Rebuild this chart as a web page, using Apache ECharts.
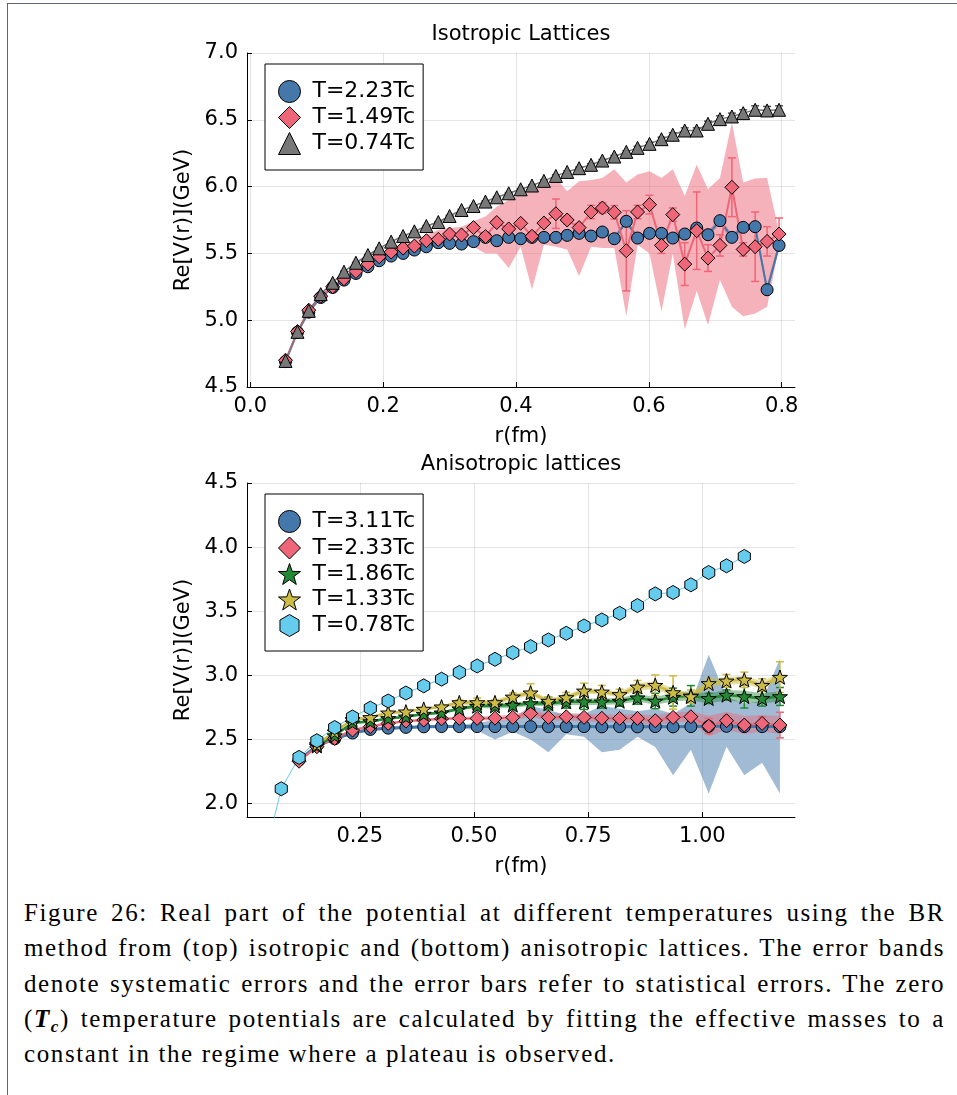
<!DOCTYPE html>
<html><head><meta charset="utf-8">
<script src="https://cdn.jsdelivr.net/npm/echarts@6/dist/echarts.min.js"></script>
<style>
html,body{margin:0;padding:0;background:#fff;}
#wrap{position:relative;width:957px;height:1095px;overflow:hidden;background:#fff;}
#frame{position:absolute;left:7px;top:3px;width:980px;height:1120px;border-top:1px solid #5f6480;border-left:1px solid #5f6480;}
#c{position:absolute;left:0;top:0;width:957px;height:880px;}
#cap{position:absolute;left:24px;top:895px;width:921px;font-family:'Liberation Serif',serif;font-size:25px;line-height:35.3px;color:#000;letter-spacing:1.6px;}
#cap div{height:35.3px;white-space:nowrap;}
#cap .j{text-align:justify;text-align-last:justify;white-space:normal;}
#cap .sub{position:relative;top:5px;font-size:17px;line-height:0;}
</style></head>
<body><div id="wrap"><div id="frame"></div><div id="c"></div>
<div id="cap">
<div class="j">Figure 26: Real part of the potential at different temperatures using the BR</div>
<div class="j">method from (top) isotropic and (bottom) anisotropic lattices. The error bands</div>
<div class="j">denote systematic errors and the error bars refer to statistical errors. The zero</div>
<div class="j">(<b><i>T<span class="sub">c</span></i></b>) temperature potentials are calculated by fitting the effective masses to a</div>
<div>constant in the regime where a plateau is observed.</div>
</div></div>
<script>
// ---------- top panel: isotropic lattices ----------
const rTop = [0.053,0.071,0.088,0.106,0.124,0.141,0.159,0.177,0.194,0.212,0.230,0.247,0.265,0.283,0.300,0.318,0.336,0.354,0.371,0.389,0.407,0.424,0.442,0.460,0.477,0.495,0.513,0.530,0.548,0.566,0.583,0.601,0.619,0.636,0.654,0.672,0.689,0.707,0.725,0.742,0.760,0.778,0.796];
const topXTicks = [0,0.2,0.4,0.6,0.8];
const topYTicks = [4.5,5.0,5.5,6.0,6.5,7.0];

const vBlueTop = [4.69,4.91,5.06,5.17,5.245,5.30,5.35,5.40,5.445,5.48,5.50,5.525,5.55,
 5.58,5.575,5.57,5.588,5.62,5.595,5.62,5.61,5.62,5.62,
 5.62,5.635,5.65,5.63,5.66,5.61,5.74,5.615,5.65,5.65,
 5.615,5.645,5.69,5.64,5.745,5.62,5.695,5.70,5.228,5.56];
const sBlueTop = [0.005,0.005,0.005,0.005,0.005,0.005,0.005,0.005,0.005,0.005,0.005,0.005,0.005,
 0.01,0.01,0.01,0.01,0.01,0.01,0.01,0.01,0.01,0.01,
 0.02,0.02,0.02,0.02,0.02,0.02,0.02,0.02,0.02,0.02,
 0.025,0.025,0.025,0.025,0.025,0.025,0.025,0.025,0.04,0.03];

const vRedTop = [4.70,4.915,5.075,5.18,5.25,5.31,5.365,5.42,5.475,5.51,5.54,5.555,5.595,
 5.605,5.645,5.638,5.693,5.626,5.731,5.683,5.725,5.628,5.727,
 5.797,5.75,5.693,5.81,5.84,5.808,5.52,5.81,5.865,5.56,
 5.79,5.42,5.67,5.465,5.56,5.995,5.53,5.55,5.59,5.645];
const eRedTop = [0.005,0.005,0.005,0.005,0.005,0.005,0.005,0.005,0.005,0.005,0.005,0.005,0.005,
 0.01,0.015,0.01,0.02,0.015,0.02,0.02,0.02,0.03,0.02,
 0.11,0.03,0.03,0.05,0.04,0.05,0.30,0.05,0.07,0.06,
 0.05,0.16,0.29,0.10,0.08,0.22,0.05,0.26,0.11,0.12];
const loRedTop = [4.69,4.905,5.065,5.17,5.24,5.30,5.355,5.41,5.46,5.49,5.52,5.53,5.55,
 5.55,5.56,5.56,5.55,5.50,5.50,5.39,5.55,5.23,5.565,
 5.55,5.53,5.33,5.55,5.54,5.54,5.03,5.565,5.50,5.065,
 5.50,4.93,5.22,4.965,5.30,5.10,5.03,5.05,5.10,5.55];
const hiRedTop = [4.71,4.925,5.085,5.19,5.26,5.32,5.375,5.43,5.49,5.53,5.57,5.60,5.64,
 5.676,5.69,5.70,5.74,5.776,5.85,5.90,5.94,5.98,6.00,
 6.065,5.965,6.04,6.05,6.065,6.13,6.03,6.09,6.115,6.065,
 6.13,5.93,6.165,5.98,6.065,6.48,6.03,6.06,6.065,5.66];

const vGrayTop = [4.695,4.913,5.07,5.195,5.28,5.363,5.43,5.488,5.538,5.588,5.63,5.665,5.705,
 5.735,5.78,5.825,5.855,5.888,5.92,5.95,5.98,6.008,6.043,
 6.08,6.11,6.138,6.163,6.195,6.225,6.26,6.29,6.32,6.355,
 6.388,6.42,6.42,6.47,6.505,6.525,6.55,6.575,6.57,6.575];
const eGrayTop = [0.003,0.003,0.003,0.003,0.003,0.003,0.003,0.003,0.003,0.003,0.003,0.003,0.003,
 0.003,0.005,0.005,0.005,0.005,0.005,0.005,0.005,0.005,0.008,
 0.008,0.008,0.008,0.008,0.008,0.008,0.008,0.012,0.012,0.015,
 0.015,0.02,0.02,0.02,0.025,0.025,0.025,0.03,0.03,0.03];

// ---------- bottom panel: anisotropic lattices ----------
const rBot = [0.039,0.078,0.117,0.156,0.195,0.234,0.273,0.312,0.351,0.390,0.429,0.468,0.507,0.546,0.585,0.624,0.663,0.702,0.741,0.780,0.819,0.858,0.897,0.936,0.975,1.014,1.053,1.092,1.131,1.170];
const botXTicks = [0.25,0.5,0.75,1.0];
const botYTicks = [2.0,2.5,3.0,3.5,4.0,4.5];

// T=3.11Tc, r index 3..30
const vBlueBot = [2.34,2.45,2.505,2.55,2.578,2.588,2.594,2.598,2.60,2.60,
 2.60,2.60,2.60,2.60,2.60,2.60,2.60,2.598,2.60,2.598,
 2.60,2.598,2.60,2.602,2.602,2.60,2.60,2.60];
const eBlueBot = [0.004,0.004,0.004,0.004,0.004,0.004,0.004,0.004,0.004,0.004,
 0.004,0.004,0.004,0.004,0.004,0.004,0.004,0.004,0.004,0.004,
 0.004,0.004,0.004,0.004,0.004,0.004,0.004,0.004];
const loBlueBot = [2.33,2.44,2.495,2.54,2.568,2.578,2.584,2.588,2.59,2.59,
 2.57,2.50,2.56,2.50,2.40,2.54,2.52,2.40,2.42,2.52,
 2.44,2.22,2.42,2.078,2.443,2.22,2.318,2.078];
const hiBlueBot = [2.35,2.46,2.515,2.56,2.588,2.598,2.604,2.608,2.61,2.61,
 2.63,2.65,2.66,2.76,2.73,2.69,2.70,2.76,2.74,2.72,
 2.74,2.70,2.78,3.16,2.83,2.78,2.80,3.13];

// T=2.33Tc, r index 3..30
const vRedBot = [2.33,2.443,2.508,2.573,2.60,2.625,2.643,2.651,2.661,2.664,
 2.664,2.666,2.672,2.703,2.672,2.677,2.672,2.665,2.664,2.664,
 2.646,2.672,2.677,2.604,2.646,2.612,2.625,2.612];
const eRedBot = [0.004,0.004,0.004,0.004,0.004,0.004,0.004,0.004,0.004,0.004,
 0.008,0.008,0.01,0.02,0.01,0.012,0.012,0.015,0.015,0.02,
 0.02,0.02,0.025,0.06,0.04,0.03,0.05,0.10];
const sRedBot = [0.01,0.01,0.01,0.01,0.01,0.01,0.01,0.01,0.01,0.01,
 0.015,0.02,0.02,0.03,0.025,0.03,0.03,0.03,0.03,0.035,
 0.04,0.04,0.04,0.08,0.07,0.07,0.065,0.07];

// T=1.86Tc, r index 4..30
const vGreenBot = [2.45,2.53,2.63,2.64,2.664,2.677,2.698,2.708,
 2.74,2.76,2.762,2.768,2.78,2.78,2.794,2.794,2.794,2.799,
 2.825,2.80,2.83,2.84,2.82,2.846,2.835,2.82,2.835];
const eGreenBot = [0.005,0.005,0.005,0.005,0.005,0.005,0.005,0.005,
 0.02,0.03,0.03,0.035,0.04,0.05,0.05,0.06,0.05,0.04,
 0.05,0.06,0.07,0.08,0.04,0.04,0.09,0.06,0.07];
const sGreenBot = [0.01,0.01,0.01,0.01,0.01,0.01,0.01,0.01,
 0.015,0.015,0.02,0.02,0.02,0.02,0.025,0.025,0.025,0.025,
 0.03,0.03,0.035,0.035,0.04,0.04,0.045,0.04,0.04];

// T=1.33Tc, r index 4..30
const vYellowBot = [2.46,2.56,2.656,2.672,2.708,2.716,2.737,2.755,
 2.788,2.788,2.788,2.832,2.864,2.799,2.827,2.879,2.871,2.851,
 2.91,2.923,2.866,2.835,2.937,2.957,2.965,2.923,2.986];
const eYellowBot = [0.005,0.005,0.005,0.005,0.005,0.005,0.005,0.005,
 0.02,0.035,0.02,0.03,0.07,0.03,0.04,0.06,0.05,0.04,
 0.05,0.08,0.13,0.05,0.04,0.05,0.06,0.05,0.12];
const sYellowBot = [0.01,0.01,0.01,0.01,0.01,0.01,0.01,0.01,
 0.02,0.02,0.02,0.02,0.02,0.02,0.02,0.02,0.02,0.02,
 0.03,0.03,0.03,0.03,0.03,0.03,0.03,0.03,0.03];

// T=0.78Tc, r index 1..28
const vCyanBot = [1.54,2.115,2.36,2.49,2.593,2.675,2.744,2.80,2.862,2.918,
 2.97,3.023,3.073,3.125,3.177,3.224,3.276,3.328,3.385,3.432,
 3.484,3.544,3.635,3.646,3.706,3.802,3.854,3.927];
const eCyanBot = [0.01,0.005,0.005,0.005,0.005,0.005,0.005,0.005,0.005,0.005,
 0.005,0.005,0.005,0.008,0.008,0.008,0.01,0.01,0.012,0.01,
 0.012,0.015,0.012,0.015,0.018,0.015,0.012,0.012];

// ---------- drawing ----------
const FONT = 'DejaVu Sans';
const C = {blue:'#4477AA', red:'#EE6677', green:'#228833', yellow:'#CCBB44', cyan:'#66CCEE', gray:'#787878'};
const STAR = 'path://M0,-1L0.235,-0.324L0.951,-0.309L0.380,0.124L0.588,0.809L0,0.4L-0.588,0.809L-0.380,0.124L-0.951,-0.309L-0.235,-0.324Z';
const HEX = 'path://M0,-1L0.866,-0.5L0.866,0.5L0,1L-0.866,0.5L-0.866,-0.5Z';

function pairs(xs, vs){ return vs.map((v,i)=>[xs[i], v]); }

function band(xs, lo, hi, fill, ax){
  const data = lo.map((l,i)=>[xs[i], l, hi[i]]);
  return {type:'custom', xAxisIndex:ax, yAxisIndex:ax, z:1, silent:true, clip:true,
    data, encode:{x:0, y:[1,2]},
    renderItem:(params, api)=>{
      if (params.dataIndex !== 0) return null;
      const pts = [];
      for (let i=0;i<data.length;i++) pts.push(api.coord([data[i][0], data[i][2]]));
      for (let i=data.length-1;i>=0;i--) pts.push(api.coord([data[i][0], data[i][1]]));
      return {type:'polygon', shape:{points:pts}, style:{fill:fill}};
    }};
}
function bandSym(xs, vs, s, fill, ax){
  return band(xs, vs.map((v,i)=>v-s[i]), vs.map((v,i)=>v+s[i]), fill, ax);
}
function line(xs, vs, color, width, ax){
  return {type:'line', xAxisIndex:ax, yAxisIndex:ax, z:2, silent:true, clip:true,
    data:pairs(xs,vs), symbol:'none', showSymbol:false,
    lineStyle:{color:color, width:width}};
}
function errs(xs, vs, es, color, ax){
  return {type:'custom', xAxisIndex:ax, yAxisIndex:ax, z:3, silent:true, clip:true,
    data: vs.map((v,i)=>[xs[i], v, es[i]]), encode:{x:0, y:1},
    renderItem:(params, api)=>{
      const x = api.value(0), y = api.value(1), e = api.value(2);
      const a = api.coord([x, y+e]), b = api.coord([x, y-e]);
      const st = {stroke:color, lineWidth:1.5};
      return {type:'group', children:[
        {type:'line', shape:{x1:a[0], y1:a[1], x2:b[0], y2:b[1]}, style:st},
        {type:'line', shape:{x1:a[0]-4, y1:a[1], x2:a[0]+4, y2:a[1]}, style:st},
        {type:'line', shape:{x1:b[0]-4, y1:b[1], x2:b[0]+4, y2:b[1]}, style:st}
      ]};
    }};
}
function marks(name, xs, vs, color, symbol, size, ax){
  return {type:'scatter', name, xAxisIndex:ax, yAxisIndex:ax, z:3, silent:true, clip:true,
    data:pairs(xs,vs), symbol, symbolSize:size, symbolKeepAspect:true,
    itemStyle:{color:color, borderColor:'#000', borderWidth:1, opacity:1}};
}

function xAxisCfg(gi, min, max, ticks, dec){
  return {type:'value', gridIndex:gi, min, max,
    name:'r(fm)', nameLocation:'middle', nameGap:39,
    nameTextStyle:{fontFamily:FONT, fontSize:21, color:'#000'},
    axisLine:{show:true, onZero:false, lineStyle:{color:'#000', width:1}},
    axisTick:{show:true, inside:true, length:5, customValues:ticks, lineStyle:{color:'#000'}},
    axisLabel:{show:true, customValues:ticks, margin:9, fontFamily:FONT, fontSize:21, color:'#000',
      formatter:(v)=>Number(v).toFixed(dec)},
    splitLine:{show:true, lineStyle:{color:'rgba(0,0,0,0.1)', width:1}}};
}
function yAxisCfg(gi, min, max, ticks){
  return {type:'value', gridIndex:gi, min, max,
    name:'Re[V(r)](GeV)', nameLocation:'middle', nameGap:52, nameRotate:90,
    nameTextStyle:{fontFamily:FONT, fontSize:21, color:'#000'},
    axisLine:{show:true, onZero:false, lineStyle:{color:'#000', width:1}},
    axisTick:{show:true, inside:true, length:5, customValues:ticks, lineStyle:{color:'#000'}},
    axisLabel:{show:true, customValues:ticks, margin:9, fontFamily:FONT, fontSize:21, color:'#000',
      formatter:(v)=>Number(v).toFixed(1)},
    splitLine:{show:true, lineStyle:{color:'rgba(0,0,0,0.1)', width:1}}};
}
function legendCfg(top, items, gap, padB){
  return {left:265, top:top, orient:'vertical', data:items, selectedMode:false,
    itemWidth:22, itemHeight:22, itemGap:gap, padding:[16,8,padB,13],
    borderColor:'#000', borderWidth:1, backgroundColor:'#fff',
    itemStyle:{borderColor:'#000', borderWidth:1},
    textStyle:{fontFamily:FONT, fontSize:22, color:'#000', padding:[0,0,0,7]}};
}

const xB = rBot.slice(2), xG = rBot.slice(3), xC = rBot.slice(0, 28);

const series = [
  // top
  bandSym(rTop, vBlueTop, sBlueTop, 'rgba(68,119,170,0.5)', 0),
  band(rTop, loRedTop, hiRedTop, 'rgba(238,102,119,0.5)', 0),
  line(rTop, vBlueTop, C.blue, 2, 0),
  line(rTop, vRedTop, C.red, 2, 0),
  line(rTop, vGrayTop, C.gray, 1.5, 0),
  marks('T=2.23Tc', rTop, vBlueTop, C.blue, 'circle', 12, 0),
  errs(rTop, vRedTop, eRedTop, C.red, 0),
  marks('T=1.49Tc', rTop, vRedTop, C.red, 'diamond', 14, 0),
  errs(rTop, vGrayTop, eGrayTop, '#555', 0),
  marks('T=0.74Tc', rTop, vGrayTop, C.gray, 'triangle', 13, 0),
  // bottom
  band(xB, loBlueBot, hiBlueBot, 'rgba(68,119,170,0.5)', 1),
  bandSym(xB, vRedBot, sRedBot, 'rgba(238,102,119,0.45)', 1),
  bandSym(xG, vGreenBot, sGreenBot, 'rgba(34,136,51,0.45)', 1),
  bandSym(xG, vYellowBot, sYellowBot, 'rgba(204,187,68,0.5)', 1),
  line(xB, vBlueBot, C.blue, 3, 1),
  line(xB, vRedBot, C.red, 2, 1),
  line(xG, vGreenBot, C.green, 2.5, 1),
  line(xG, vYellowBot, C.yellow, 2.5, 1),
  line(xC, vCyanBot, C.cyan, 1, 1),
  errs(xB, vBlueBot, eBlueBot, C.blue, 1),
  marks('T=3.11Tc', xB, vBlueBot, C.blue, 'circle', 12, 1),
  errs(xB, vRedBot, eRedBot, C.red, 1),
  marks('T=2.33Tc', xB, vRedBot, C.red, 'diamond', 14, 1),
  errs(xG, vGreenBot, eGreenBot, C.green, 1),
  marks('T=1.86Tc', xG, vGreenBot, C.green, STAR, 15, 1),
  errs(xG, vYellowBot, eYellowBot, C.yellow, 1),
  marks('T=1.33Tc', xG, vYellowBot, C.yellow, STAR, 15, 1),
  errs(xC, vCyanBot, eCyanBot, C.cyan, 1),
  marks('T=0.78Tc', xC, vCyanBot, C.cyan, HEX, 14, 1)
];

const chart = echarts.init(document.getElementById('c'), null, {renderer:'canvas'});
chart.setOption({
  animation:false,
  backgroundColor:'transparent',
  grid:[
    {left:247, top:53, width:548, height:334, containLabel:false},
    {left:247, top:483, width:548, height:334, containLabel:false}
  ],
  xAxis:[ xAxisCfg(0, -0.005, 0.82, topXTicks, 1), xAxisCfg(1, 0.003, 1.203, botXTicks, 2) ],
  yAxis:[ yAxisCfg(0, 4.5, 7.0, topYTicks), yAxisCfg(1, 1.895, 4.5, botYTicks) ],
  legend:[
    legendCfg(64, [{name:'T=2.23Tc', icon:'circle'},{name:'T=1.49Tc', icon:'diamond'},{name:'T=0.74Tc', icon:'triangle'}], 3, 15),
    legendCfg(494, [{name:'T=3.11Tc', icon:'circle'},{name:'T=2.33Tc', icon:'diamond'},{name:'T=1.86Tc', icon:STAR},{name:'T=1.33Tc', icon:STAR},{name:'T=0.78Tc', icon:HEX}], 3.5, 14)
  ],
  graphic:[
    {type:'text', x:521, y:35, style:{text:'Isotropic Lattices', font:'21px "DejaVu Sans"', fill:'#000', textAlign:'center', textVerticalAlign:'middle', verticalAlign:'middle'}},
    {type:'text', x:521, y:465, style:{text:'Anisotropic lattices', font:'21px "DejaVu Sans"', fill:'#000', textAlign:'center', textVerticalAlign:'middle', verticalAlign:'middle'}}
  ],
  series
});
</script></body></html>
